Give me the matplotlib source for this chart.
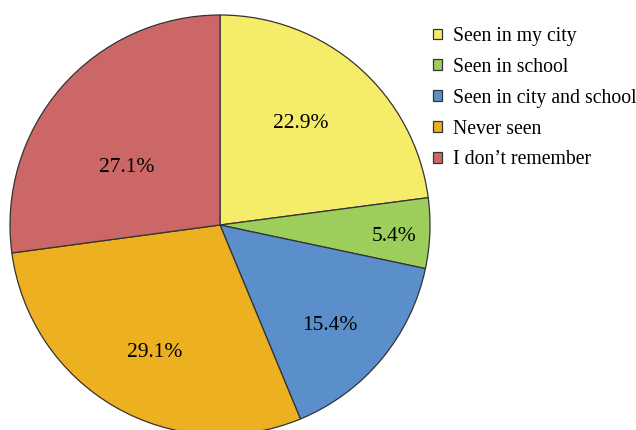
import numpy as np
import matplotlib.pyplot as plt

labels = ['Seen in my city', 'Seen in school', 'Seen in city and school',
          'Never seen', "I don\u2019t remember"]
values = [22.9, 5.4, 15.4, 29.1, 27.1]
colors = ['#F5EC6A', '#9DCE5C', '#5A8FCB', '#EDB020', '#CB6766']

# label placement (distance from centre, angle shift in degrees from the bisector)
label_dist = [0.63, 0.83, 0.70, 0.67, 0.53]
label_shift = [3.6, -0.6, -1.7, 2.1, 8.2]

plt.rcParams['font.family'] = ['Liberation Serif', 'DejaVu Serif']

fig = plt.figure(figsize=(6.36, 4.30), dpi=100)
ax = fig.add_axes([10 / 636, -5 / 430, 420 / 636, 420 / 430])

wedges, texts, autotexts = ax.pie(
    values, colors=colors, startangle=90, counterclock=False,
    autopct='%.1f%%', radius=1.0,
    wedgeprops=dict(edgecolor='#333333', linewidth=0.9),
    textprops=dict(fontsize=15.5, color='black'))

for w, t, d, s in zip(wedges, autotexts, label_dist, label_shift):
    ang = np.deg2rad((w.theta1 + w.theta2) / 2 + s)
    # small downward nudge so the digits sit centred like the original
    t.set_position((d * np.cos(ang), d * np.sin(ang) - 0.015))

ax.set_xlim(-1.0, 1.0)
ax.set_ylim(-1.0, 1.0)
ax.set_aspect('auto')

fig.legend(wedges, labels, loc='upper left', bbox_to_anchor=(433 / 636, 1 - 27 / 430),
           frameon=False, fontsize=14.2, handlelength=0.46, handleheight=0.46,
           handletextpad=0.55, labelspacing=0.6, borderpad=0, borderaxespad=0)

fig.savefig('out.png', dpi=100)
